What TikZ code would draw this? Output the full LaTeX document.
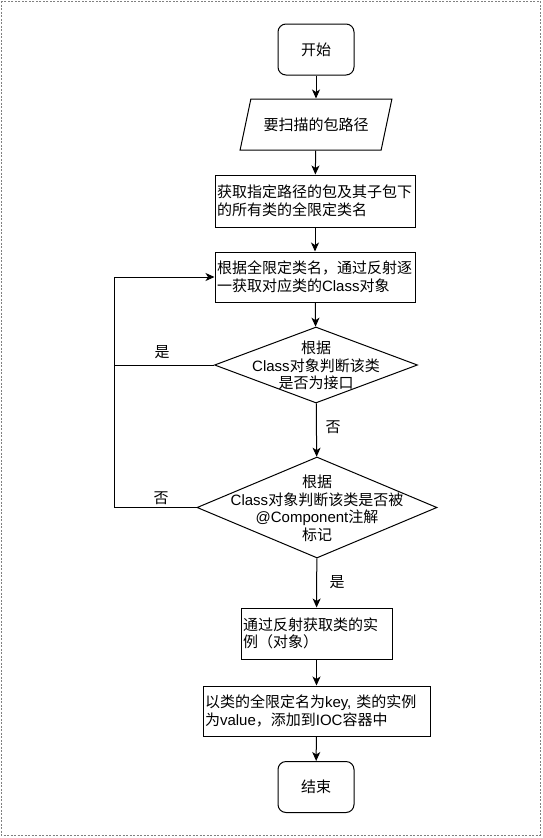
\documentclass[tikz,border=0pt]{standalone}
\usepackage{fontspec}
\setmainfont{Noto Sans CJK SC}
\newfontfamily\lat{Liberation Sans}
\usetikzlibrary{shapes.geometric,arrows.meta}
\begin{document}
\begin{tikzpicture}[x=1pt,y=-1pt,
  every node/.style={font=\fontsize{15}{17.5}\selectfont},
  term/.style={draw, line width=1pt, rounded corners=8pt, minimum width=76pt, minimum height=51pt, inner sep=0pt},
  proc/.style={draw, line width=1pt, align=left, inner sep=2pt},
  dec/.style={diamond, draw, line width=1pt, inner sep=0pt},
  flow/.style={line width=1pt, -{Stealth[length=9pt,width=8pt,inset=2.5pt]}},
  plain/.style={line width=1pt}]
\useasboundingbox (0,0) rectangle (542,838);
\draw[gray, line width=0.8pt, dash pattern=on 2pt off 1.5pt] (1,1) rectangle (540,835);

\node[term] (start) at (316,49.5) {开始};
\node[trapezium, draw, line width=1pt, trapezium left angle=58, trapezium right angle=122,
      minimum width=152pt, minimum height=51pt, trapezium stretches=true, inner sep=0pt] (in) at (316,124.5) {要扫描的包路径};
\node[proc, minimum width=200pt, minimum height=52pt, text width=196pt] (b1) at (315,201) {获取指定路径的包及其子包下\\的所有类的全限定类名};
\node[proc, minimum width=200pt, minimum height=50pt, text width=196pt] (b2) at (315,277) {根据全限定类名，通过反射逐\\一获取对应类的{\lat Class}对象};
\node[dec, minimum width=203pt, minimum height=76pt] (d1) at (316,365) {};
\node[align=center, inner sep=0pt] (d1t) at (316,365.5) {根据\\{\lat Class}对象判断该类\\是否为接口};
\node[dec, minimum width=240pt, minimum height=101pt] (d2) at (317,507.5) {};
\node[align=center, inner sep=0pt] (d2t) at (317,508.5) {根据\\{\lat Class}对象判断该类是否被\\{\lat @Component}注解\\标记};
\node[proc, minimum width=151pt, minimum height=51pt, text width=147pt] (b3) at (316.5,633.5) {通过反射获取类的实\\例（对象）};
\node[proc, minimum width=227pt, minimum height=50pt, text width=223pt] (b4) at (316.5,711) {以类的全限定名为{\lat key,} 类的实例\\为{\lat value}，添加到{\lat IOC}容器中};
\node[term] (end) at (316,787) {结束};

\coordinate (lp) at (114,0);

\draw[flow] (start) -- (in);
\draw[flow] (in) -- (b1);
\draw[flow] (b1) -- (b2);
\draw[flow] (b2) -- (d1);
\draw[flow] (d1) -- (d2);
\draw[flow] (d2) -- (b3);
\draw[flow] (b3) -- (b4);
\draw[flow] (b4) -- (end);
\draw[plain] (d1.west) -- (d1.west -| lp);
\draw[flow] (d2.west) -- (d2.west -| lp) -- (b2.west -| lp) -- (b2.west);

\node (l1) at (162,352) {是};
\node (l2) at (161,498) {否};
\node (l3) at (333,427) {否};
\node (l4) at (337,582) {是};
\end{tikzpicture}
\end{document}
